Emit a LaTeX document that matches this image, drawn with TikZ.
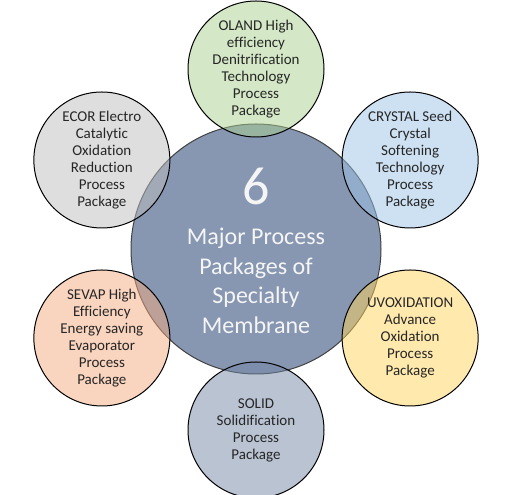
\documentclass[tikz,border=0pt]{standalone}
\usepackage{fontspec}
\setmainfont{Carlito}[Ligatures=NoCommon]
\definecolor{hubblue}{HTML}{8797B2}
\definecolor{olandgreen}{HTML}{A9D08E}
\definecolor{crystalblue}{HTML}{9DC3E6}
\definecolor{uvyellow}{HTML}{FFD35C}
\definecolor{solidgray}{HTML}{7387A5}
\definecolor{sevappeach}{HTML}{F4A97E}
\definecolor{ecorgray}{HTML}{BDBDBD}

\begin{document}
\begin{tikzpicture}[x=1pt,y=1pt,
  pkg/.style={circle, draw=black, line width=1pt, minimum size=136pt, inner sep=0pt,
    fill opacity=0.5, text opacity=1, align=center, text=black!85,
    font=\fontsize{15}{17}\selectfont}]
\useasboundingbox (0,0) rectangle (512,495);

% the hub in the middle
\node[circle, draw=black!75, line width=1pt, fill=hubblue, minimum size=250pt] (hub) at (256,246) {};
\node[anchor=base, text=white!96!black, font=\fontsize{54}{54}\selectfont] (six) at (256,290) {6};
\node[align=center, text=white!96!black, font=\fontsize{24}{29.5}\selectfont] (title) at (256,214)
  {Major Process\\Packages of\\Specialty\\Membrane};

% six packages round it
\begin{scope}[shift={(256,246)}]
 \node[pkg, fill=olandgreen] (oland) at (90:180) {OLAND High\\efficiency\\Denitrification\\Technology\\Process\\Package};
 \node[pkg, fill=crystalblue] (crystal) at (30:178) {CRYSTAL Seed\\Crystal\\Softening\\Technology\\Process\\Package};
 \node[pkg, fill=uvyellow] (uvox) at (-30:178) {UVOXIDATION\\Advance\\Oxidation\\Process\\Package};
 \node[pkg, fill=solidgray] (solid) at (270:181) {SOLID\\Solidification\\Process\\Package};
 \node[pkg, fill=sevappeach] (sevap) at (210:178) {SEVAP High\\Efficiency\\Energy saving\\Evaporator\\Process\\Package};
 \node[pkg, fill=ecorgray] (ecor) at (150:178) {ECOR Electro\\Catalytic\\Oxidation\\Reduction\\Process\\Package};
\end{scope}

\end{tikzpicture}
\end{document}
